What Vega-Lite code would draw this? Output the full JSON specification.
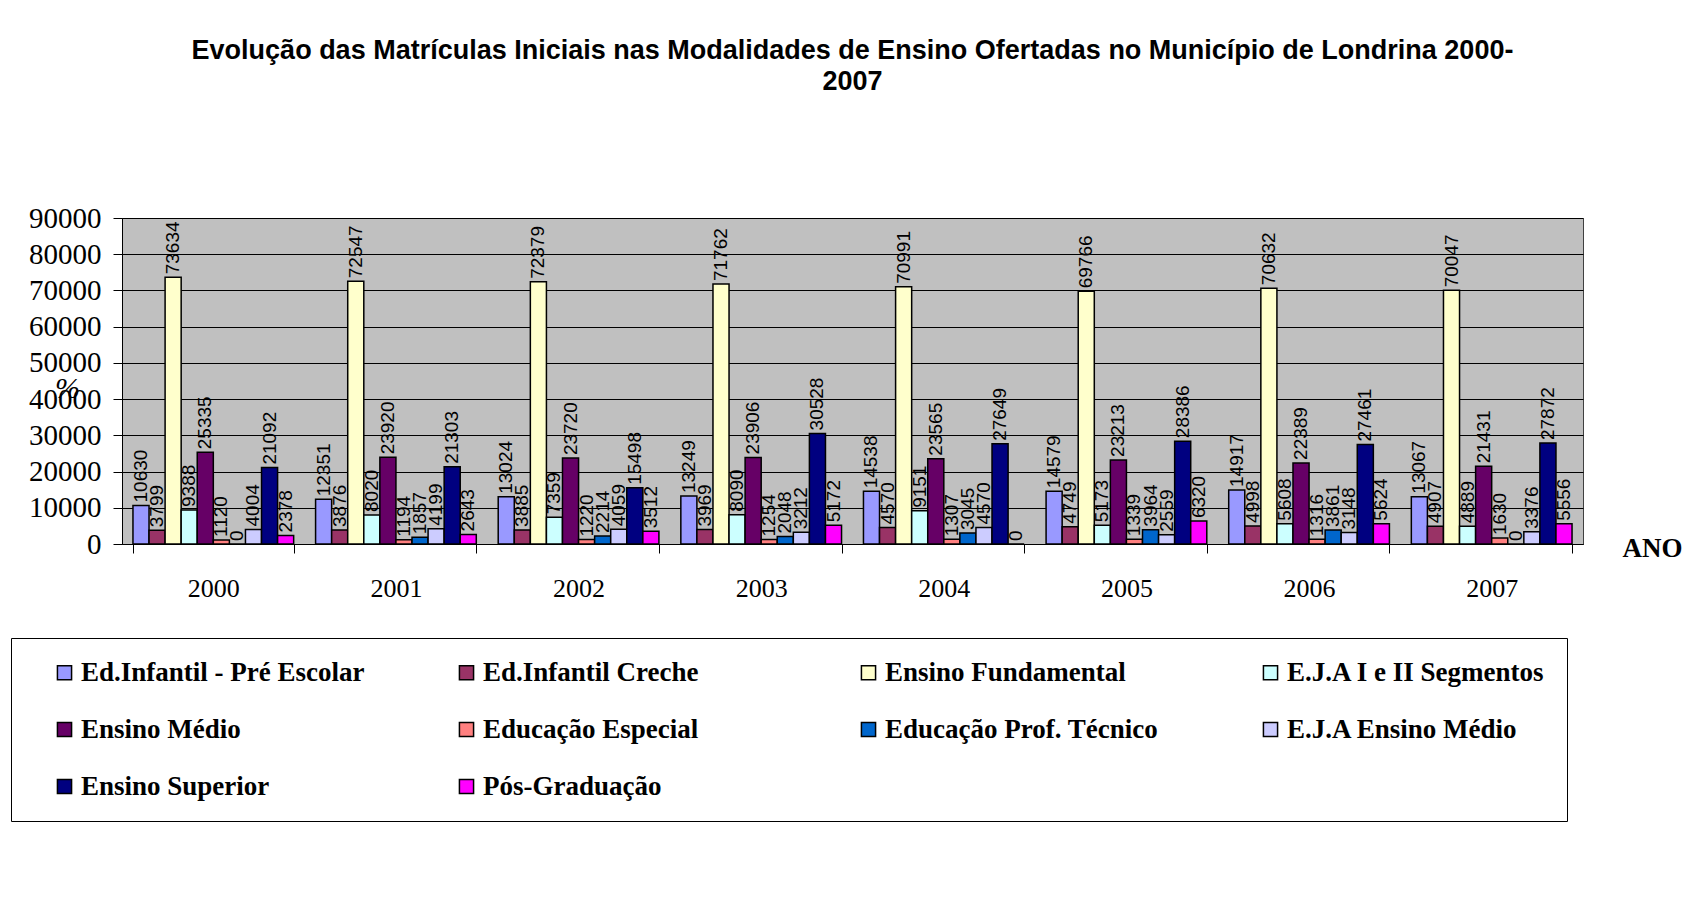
{
  "$schema": "https://vega.github.io/schema/vega-lite/v6.json",
  "width": 1461,
  "height": 326,
  "autosize": {"type": "none"},
  "padding": {"left": 122, "top": 218, "right": 105, "bottom": 377},
  "background": "white",
  "title": {
    "text": ["Evolução das Matrículas Iniciais nas Modalidades de Ensino Ofertadas no Município de Londrina 2000-", "2007"],
    "anchor": "middle",
    "frame": "group",
    "font": "Liberation Sans",
    "fontSize": 27,
    "fontWeight": "bold",
    "lineHeight": 31,
    "offset": 108,
    "color": "black"
  },
  "data": {
    "values": [
      {"ano": "2000", "serie": "Ed.Infantil - Pré Escolar", "ordem": "a", "valor": 10630},
      {"ano": "2000", "serie": "Ed.Infantil Creche", "ordem": "b", "valor": 3799},
      {"ano": "2000", "serie": "Ensino Fundamental", "ordem": "c", "valor": 73634},
      {"ano": "2000", "serie": "E.J.A I e II Segmentos", "ordem": "d", "valor": 9388},
      {"ano": "2000", "serie": "Ensino Médio", "ordem": "e", "valor": 25335},
      {"ano": "2000", "serie": "Educação Especial", "ordem": "f", "valor": 1120},
      {"ano": "2000", "serie": "Educação Prof. Técnico", "ordem": "g", "valor": 0},
      {"ano": "2000", "serie": "E.J.A Ensino Médio", "ordem": "h", "valor": 4004},
      {"ano": "2000", "serie": "Ensino Superior", "ordem": "i", "valor": 21092},
      {"ano": "2000", "serie": "Pós-Graduação", "ordem": "j", "valor": 2378},
      {"ano": "2001", "serie": "Ed.Infantil - Pré Escolar", "ordem": "a", "valor": 12351},
      {"ano": "2001", "serie": "Ed.Infantil Creche", "ordem": "b", "valor": 3876},
      {"ano": "2001", "serie": "Ensino Fundamental", "ordem": "c", "valor": 72547},
      {"ano": "2001", "serie": "E.J.A I e II Segmentos", "ordem": "d", "valor": 8020},
      {"ano": "2001", "serie": "Ensino Médio", "ordem": "e", "valor": 23920},
      {"ano": "2001", "serie": "Educação Especial", "ordem": "f", "valor": 1194},
      {"ano": "2001", "serie": "Educação Prof. Técnico", "ordem": "g", "valor": 1857},
      {"ano": "2001", "serie": "E.J.A Ensino Médio", "ordem": "h", "valor": 4199},
      {"ano": "2001", "serie": "Ensino Superior", "ordem": "i", "valor": 21303},
      {"ano": "2001", "serie": "Pós-Graduação", "ordem": "j", "valor": 2643},
      {"ano": "2002", "serie": "Ed.Infantil - Pré Escolar", "ordem": "a", "valor": 13024},
      {"ano": "2002", "serie": "Ed.Infantil Creche", "ordem": "b", "valor": 3885},
      {"ano": "2002", "serie": "Ensino Fundamental", "ordem": "c", "valor": 72379},
      {"ano": "2002", "serie": "E.J.A I e II Segmentos", "ordem": "d", "valor": 7359},
      {"ano": "2002", "serie": "Ensino Médio", "ordem": "e", "valor": 23720},
      {"ano": "2002", "serie": "Educação Especial", "ordem": "f", "valor": 1220},
      {"ano": "2002", "serie": "Educação Prof. Técnico", "ordem": "g", "valor": 2214},
      {"ano": "2002", "serie": "E.J.A Ensino Médio", "ordem": "h", "valor": 4059},
      {"ano": "2002", "serie": "Ensino Superior", "ordem": "i", "valor": 15498},
      {"ano": "2002", "serie": "Pós-Graduação", "ordem": "j", "valor": 3512},
      {"ano": "2003", "serie": "Ed.Infantil - Pré Escolar", "ordem": "a", "valor": 13249},
      {"ano": "2003", "serie": "Ed.Infantil Creche", "ordem": "b", "valor": 3969},
      {"ano": "2003", "serie": "Ensino Fundamental", "ordem": "c", "valor": 71762},
      {"ano": "2003", "serie": "E.J.A I e II Segmentos", "ordem": "d", "valor": 8090},
      {"ano": "2003", "serie": "Ensino Médio", "ordem": "e", "valor": 23906},
      {"ano": "2003", "serie": "Educação Especial", "ordem": "f", "valor": 1254},
      {"ano": "2003", "serie": "Educação Prof. Técnico", "ordem": "g", "valor": 2048},
      {"ano": "2003", "serie": "E.J.A Ensino Médio", "ordem": "h", "valor": 3212},
      {"ano": "2003", "serie": "Ensino Superior", "ordem": "i", "valor": 30528},
      {"ano": "2003", "serie": "Pós-Graduação", "ordem": "j", "valor": 5172},
      {"ano": "2004", "serie": "Ed.Infantil - Pré Escolar", "ordem": "a", "valor": 14538},
      {"ano": "2004", "serie": "Ed.Infantil Creche", "ordem": "b", "valor": 4570},
      {"ano": "2004", "serie": "Ensino Fundamental", "ordem": "c", "valor": 70991},
      {"ano": "2004", "serie": "E.J.A I e II Segmentos", "ordem": "d", "valor": 9151},
      {"ano": "2004", "serie": "Ensino Médio", "ordem": "e", "valor": 23565},
      {"ano": "2004", "serie": "Educação Especial", "ordem": "f", "valor": 1307},
      {"ano": "2004", "serie": "Educação Prof. Técnico", "ordem": "g", "valor": 3045},
      {"ano": "2004", "serie": "E.J.A Ensino Médio", "ordem": "h", "valor": 4570},
      {"ano": "2004", "serie": "Ensino Superior", "ordem": "i", "valor": 27649},
      {"ano": "2004", "serie": "Pós-Graduação", "ordem": "j", "valor": 0},
      {"ano": "2005", "serie": "Ed.Infantil - Pré Escolar", "ordem": "a", "valor": 14579},
      {"ano": "2005", "serie": "Ed.Infantil Creche", "ordem": "b", "valor": 4749},
      {"ano": "2005", "serie": "Ensino Fundamental", "ordem": "c", "valor": 69766},
      {"ano": "2005", "serie": "E.J.A I e II Segmentos", "ordem": "d", "valor": 5173},
      {"ano": "2005", "serie": "Ensino Médio", "ordem": "e", "valor": 23213},
      {"ano": "2005", "serie": "Educação Especial", "ordem": "f", "valor": 1339},
      {"ano": "2005", "serie": "Educação Prof. Técnico", "ordem": "g", "valor": 3964},
      {"ano": "2005", "serie": "E.J.A Ensino Médio", "ordem": "h", "valor": 2559},
      {"ano": "2005", "serie": "Ensino Superior", "ordem": "i", "valor": 28386},
      {"ano": "2005", "serie": "Pós-Graduação", "ordem": "j", "valor": 6320},
      {"ano": "2006", "serie": "Ed.Infantil - Pré Escolar", "ordem": "a", "valor": 14917},
      {"ano": "2006", "serie": "Ed.Infantil Creche", "ordem": "b", "valor": 4998},
      {"ano": "2006", "serie": "Ensino Fundamental", "ordem": "c", "valor": 70632},
      {"ano": "2006", "serie": "E.J.A I e II Segmentos", "ordem": "d", "valor": 5608},
      {"ano": "2006", "serie": "Ensino Médio", "ordem": "e", "valor": 22389},
      {"ano": "2006", "serie": "Educação Especial", "ordem": "f", "valor": 1316},
      {"ano": "2006", "serie": "Educação Prof. Técnico", "ordem": "g", "valor": 3861},
      {"ano": "2006", "serie": "E.J.A Ensino Médio", "ordem": "h", "valor": 3148},
      {"ano": "2006", "serie": "Ensino Superior", "ordem": "i", "valor": 27461},
      {"ano": "2006", "serie": "Pós-Graduação", "ordem": "j", "valor": 5624},
      {"ano": "2007", "serie": "Ed.Infantil - Pré Escolar", "ordem": "a", "valor": 13067},
      {"ano": "2007", "serie": "Ed.Infantil Creche", "ordem": "b", "valor": 4907},
      {"ano": "2007", "serie": "Ensino Fundamental", "ordem": "c", "valor": 70047},
      {"ano": "2007", "serie": "E.J.A I e II Segmentos", "ordem": "d", "valor": 4889},
      {"ano": "2007", "serie": "Ensino Médio", "ordem": "e", "valor": 21431},
      {"ano": "2007", "serie": "Educação Especial", "ordem": "f", "valor": 1630},
      {"ano": "2007", "serie": "Educação Prof. Técnico", "ordem": "g", "valor": 0},
      {"ano": "2007", "serie": "E.J.A Ensino Médio", "ordem": "h", "valor": 3376},
      {"ano": "2007", "serie": "Ensino Superior", "ordem": "i", "valor": 27872},
      {"ano": "2007", "serie": "Pós-Graduação", "ordem": "j", "valor": 5556}
    ]
  },
  "encoding": {
    "x": {
      "field": "ano",
      "type": "nominal",
      "scale": {"paddingInner": 0.12, "paddingOuter": 0.06},
      "axis": {
        "title": "ANO",
        "titleFont": "Liberation Serif",
        "titleFontSize": 27,
        "titleFontWeight": "bold",
        "titleColor": "black",
        "titleAnchor": "start",
        "titleAlign": "left",
        "titleBaseline": "middle",
        "titleX": 1500,
        "titleY": 4,
        "labelAngle": 0,
        "labelFont": "Liberation Serif",
        "labelFontSize": 26,
        "labelColor": "black",
        "labelPadding": 22,
        "tickBand": "extent",
        "tickSize": 9,
        "tickColor": "black",
        "domainColor": "black",
        "grid": false
      }
    },
    "xOffset": {"field": "ordem", "type": "nominal"},
    "y": {
      "field": "valor",
      "type": "quantitative",
      "scale": {"domain": [0, 90000], "nice": false},
      "axis": {
        "values": [0, 10000, 20000, 30000, 40000, 50000, 60000, 70000, 80000, 90000],
        "format": "d",
        "title": "%",
        "titleAngle": 0,
        "titleFont": "Liberation Serif",
        "titleFontSize": 30,
        "titleFontStyle": "italic",
        "titleFontWeight": "normal",
        "titleColor": "black",
        "titleX": -55,
        "titleY": 170,
        "titleAlign": "center",
        "titleBaseline": "middle",
        "labelFont": "Liberation Serif",
        "labelFontSize": 29,
        "labelColor": "black",
        "labelPadding": 12,
        "tickSize": 9,
        "tickColor": "black",
        "domainColor": "black",
        "gridColor": "black",
        "gridWidth": 1
      }
    }
  },
  "layer": [
    {
      "mark": {"type": "bar", "stroke": "black", "strokeWidth": 1.5},
      "encoding": {
        "color": {
          "field": "serie",
          "type": "nominal",
          "scale": {
            "domain": ["Ed.Infantil - Pré Escolar", "Ed.Infantil Creche", "Ensino Fundamental", "E.J.A I e II Segmentos", "Ensino Médio", "Educação Especial", "Educação Prof. Técnico", "E.J.A Ensino Médio", "Ensino Superior", "Pós-Graduação"],
            "range": ["#9999FF", "#993366", "#FFFFCC", "#CCFFFF", "#660066", "#FF8080", "#0066CC", "#CCCCFF", "#000080", "#FF00FF"]
          },
          "legend": {
            "orient": "none",
            "legendX": -111,
            "legendY": 420,
            "direction": "horizontal",
            "columns": 4,
            "gridAlign": "all",
            "title": " ",
            "titleOrient": "left",
            "titleFontSize": 4,
            "titlePadding": 19,
            "padding": 21,
            "strokeColor": "black",
            "fillColor": "white",
            "columnPadding": 88,
            "rowPadding": 29,
            "symbolType": "square",
            "symbolSize": 200,
            "symbolStrokeColor": "black",
            "symbolStrokeWidth": 1.5,
            "symbolOpacity": 1,
            "labelFont": "Liberation Serif",
            "labelFontSize": 27,
            "labelFontWeight": "bold",
            "labelColor": "black",
            "labelOffset": 3,
            "labelLimit": 700
          }
        }
      }
    },
    {
      "mark": {
        "type": "text",
        "angle": 270,
        "align": "left",
        "baseline": "middle",
        "dx": 3,
        "font": "Liberation Sans",
        "fontSize": 19,
        "color": "black"
      },
      "encoding": {
        "text": {"field": "valor", "type": "quantitative", "format": "d"}
      }
    }
  ],
  "config": {
    "view": {"fill": "#C0C0C0", "stroke": "#404040", "strokeWidth": 1}
  }
}
